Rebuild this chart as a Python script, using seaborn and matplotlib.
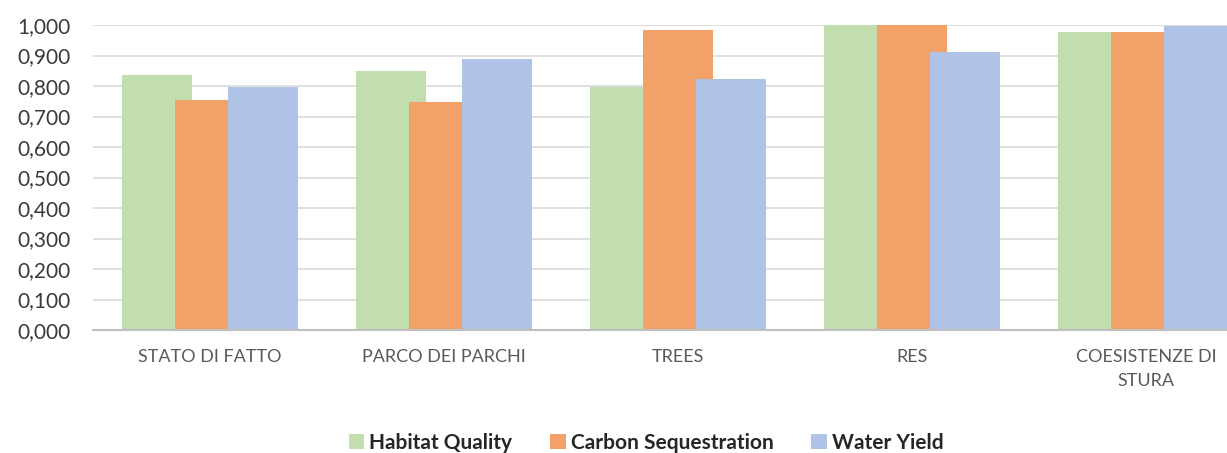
import pandas as pd
import matplotlib
matplotlib.use("Agg")
import matplotlib.pyplot as plt
from matplotlib.ticker import FuncFormatter
import seaborn as sns

# Data
categories = ["STATO DI FATTO", "PARCO DEI PARCHI", "TREES", "RES", "COESISTENZE DI\nSTURA"]
habitat_quality = [0.836, 0.849, 0.798, 1.000, 0.978]
carbon_sequestration = [0.754, 0.746, 0.984, 1.000, 0.978]
water_yield = [0.798, 0.888, 0.823, 0.912, 0.998]
series_names = ["Habitat Quality", "Carbon Sequestration", "Water Yield"]
colors = ["#C2DEAE", "#F2A268", "#AEC3E6"]

df = pd.DataFrame({
    "scenario": categories * 3,
    "value": habitat_quality + carbon_sequestration + water_yield,
    "index": [name for name in series_names for _ in categories],
})

sns.set_style("white")
plt.rcParams["font.family"] = ["Lato", "DejaVu Sans"]

fig = plt.figure(figsize=(12.27, 4.53), dpi=100)
ax = fig.add_axes([93 / 1227, 1 - 330 / 453, 1 - 93 / 1227, (330 - 25) / 453])

# overlapping bars like the original (Excel overlap)
sns.barplot(data=df, x="scenario", y="value", hue="index", palette=colors,
            width=0.68, gap=-0.32, saturation=1, linewidth=0, edgecolor="none",
            ax=ax, zorder=2)

ax.set_ylim(0, 1.0)
ax.set_xlim(-0.5, 4 + (1227 - 1146) / 234)
ax.set_yticks([i / 10 for i in range(11)])
ax.yaxis.set_major_formatter(FuncFormatter(lambda v, p: f"{v:.3f}".replace(".", ",")))
ax.grid(axis="y", color="#D9D9D9", linewidth=1.2, zorder=0)
ax.set_axisbelow(True)
for side in ["top", "right", "left"]:
    ax.spines[side].set_visible(False)
ax.spines["bottom"].set_color("#BFBFBF")
ax.spines["bottom"].set_linewidth(1.5)
ax.tick_params(axis="y", length=0, pad=16, labelsize=15, labelcolor="#3A3A3A")
ax.tick_params(axis="x", length=0, pad=14, labelsize=13, labelcolor="#595959")
for lbl in ax.get_xticklabels():
    lbl.set_linespacing(1.6)
ax.set_xlabel("")
ax.set_ylabel("")

handles, labels = ax.get_legend_handles_labels()
ax.get_legend().remove()
leg = fig.legend(handles, labels, loc="center", bbox_to_anchor=(646 / 1227, 1 - 443 / 453),
                 ncol=3, frameon=False, handlelength=0.75, handleheight=0.75,
                 handletextpad=0.25, columnspacing=1.8,
                 prop={"weight": "bold", "size": 15})
for t in leg.get_texts():
    t.set_color("#262626")

fig.savefig("out.png", dpi=100)
